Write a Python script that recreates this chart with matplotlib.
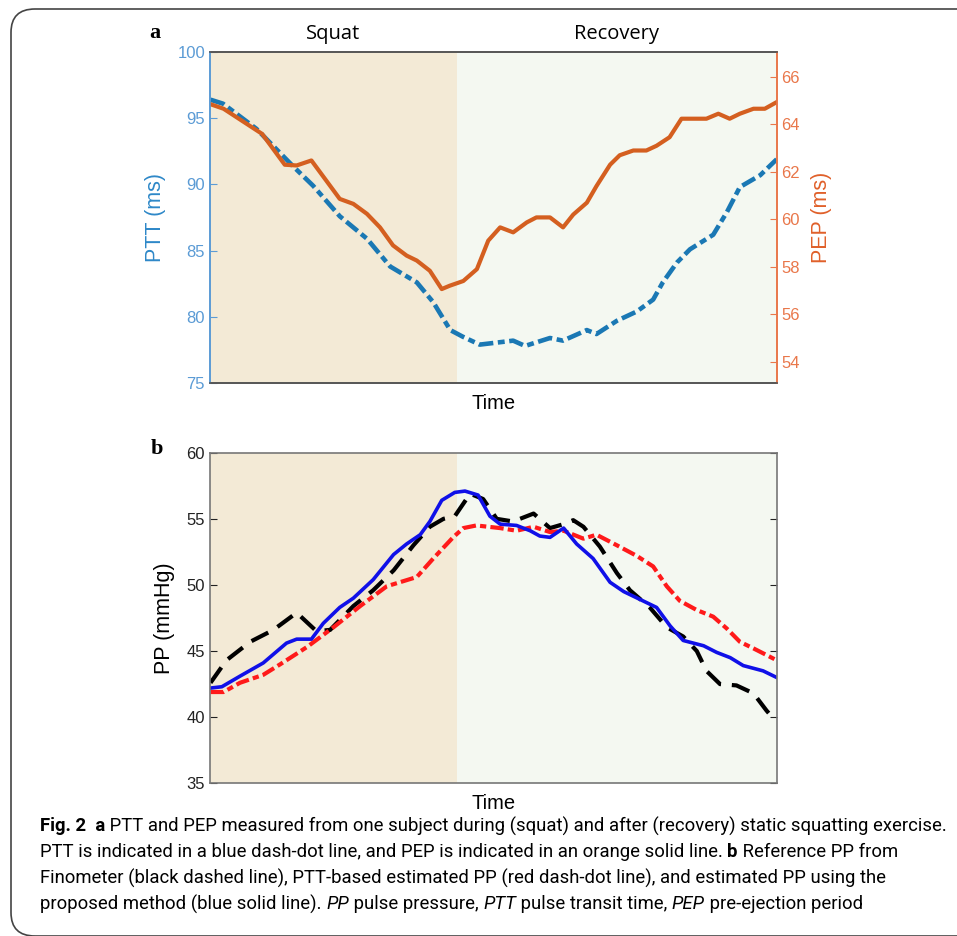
import numpy as np
import matplotlib
matplotlib.use("Agg")
from matplotlib import pyplot as plt
from matplotlib.patches import FancyBboxPatch

plt.rcParams["font.family"] = ["Liberation Sans", "DejaVu Sans"]

# ---- data (time as % of recording) ----
split_t = 43.6

ptt_t = [0.1, 2.3, 8.2, 14.6, 18.2, 22.9, 27.7, 31.8, 36.5, 39.4, 42.4, 44.6, 47.6,
         53.5, 55.6, 60.0, 62.3, 66.5, 68.2, 71.8, 75.3, 78.2, 79.9, 82.4, 84.7,
         88.8, 91.2, 93.5, 97.1, 100]
ptt = [96.4, 96.1, 94.2, 91.4, 89.9, 87.6, 85.9, 83.8, 82.6, 81.1, 79.0, 78.5, 77.9,
       78.2, 77.8, 78.4, 78.2, 79.0, 78.7, 79.7, 80.4, 81.3, 82.6, 84.1, 85.1,
       86.2, 87.9, 89.8, 90.7, 91.9]

pep_t = [0.1, 2.4, 9.2, 13.2, 15.3, 17.9, 22.9, 25.3, 27.7, 30.0, 32.3, 34.7, 36.5,
         38.8, 40.9, 42.3, 44.7, 47.1, 49.1, 51.2, 53.5, 55.9, 57.6, 60.0, 62.3,
         64.1, 66.5, 68.2, 70.6, 72.3, 74.7, 77.0, 78.8, 81.1, 83.2, 85.3, 87.6,
         89.7, 91.7, 93.5, 95.9, 97.9, 100]
pep = [64.85, 64.66, 63.6, 62.3, 62.27, 62.48, 60.86, 60.65, 60.23, 59.66, 58.9, 58.47, 58.26,
       57.83, 57.06, 57.2, 57.4, 57.9, 59.1, 59.66, 59.45, 59.87, 60.08, 60.08, 59.66,
       60.2, 60.7, 61.4, 62.3, 62.7, 62.9, 62.9, 63.1, 63.46, 64.24, 64.24, 64.24,
       64.45, 64.24, 64.45, 64.66, 64.66, 64.94]

prop_t = [0.1, 2.1, 5.3, 9.4, 13.5, 15.3, 17.9, 20.0, 22.9, 25.3, 28.8, 32.4, 34.7,
          37.1, 38.8, 40.9, 43.2, 45.0, 47.3, 49.4, 51.2, 54.1, 56.5, 58.2, 60.0,
          62.4, 64.7, 67.6, 70.6, 73.0, 75.9, 78.8, 81.2, 83.5, 87.1, 89.4, 91.8,
          94.1, 97.6, 100]
pp_prop = [42.2, 42.3, 43.1, 44.1, 45.6, 45.9, 45.9, 47.1, 48.3, 49.0, 50.4, 52.3, 53.1,
           53.8, 54.8, 56.4, 57.0, 57.1, 56.8, 55.2, 54.6, 54.5, 54.1, 53.7, 53.6,
           54.3, 53.1, 52.0, 50.2, 49.5, 48.9, 48.3, 46.9, 45.8, 45.4, 44.9, 44.5,
           43.9, 43.5, 43.0]

pttest_t = [0.1, 2.4, 5.3, 9.4, 12.4, 17.1, 21.8, 26.5, 31.2, 36.5, 39.4, 42.9, 44.7,
            47.0, 51.2, 54.1, 57.1, 60.0, 62.4, 65.9, 68.2, 71.8, 75.3, 78.2, 80.6,
            82.9, 85.9, 88.8, 91.2, 93.5, 95.9, 98.2, 100]
pp_ptt = [41.9, 41.9, 42.6, 43.2, 44.0, 45.3, 46.8, 48.4, 49.9, 50.6, 52.0, 53.6, 54.3,
          54.5, 54.3, 54.1, 54.4, 54.0, 54.1, 53.5, 53.8, 53.0, 52.2, 51.4, 49.9,
          48.8, 48.1, 47.6, 46.7, 45.7, 45.2, 44.7, 44.3]

fino_t = [0.1, 2.9, 7.1, 11.2, 15.3, 18.8, 21.2, 25.3, 28.8, 32.4, 35.9, 38.8, 41.2,
          43.2, 45.9, 48.2, 50.6, 53.5, 57.1, 60.0, 62.4, 64.1, 65.9, 68.8, 71.8,
          74.1, 77.6, 80.6, 83.5, 85.9, 87.6, 90.0, 92.9, 95.9, 98.2, 98.8]
pp_fino = [42.6, 44.3, 45.7, 46.6, 47.9, 46.5, 46.6, 48.4, 49.6, 51.1, 53.0, 54.4, 55.0,
           55.2, 56.9, 56.5, 55.0, 54.8, 55.4, 54.3, 54.6, 54.9, 54.4, 52.9, 50.9,
           49.6, 48.3, 46.8, 46.1, 45.0, 43.5, 42.5, 42.4, 41.8, 40.5, 40.2]

squat_col = "#f3ead6"
recov_col = "#f4f8f1"
ptt_col = "#1a78b4"
pep_col = "#d45f20"
ptt_tick = "#5b9bd5"
pep_tick = "#e9774a"
dashdot = (0, (3.2, 1.0, 1.5, 1.0))

fig = plt.figure(figsize=(9.57, 9.36), dpi=100)

# rounded caption frame
frame = FancyBboxPatch((11 / 957, 0.0), 1.2, (936 - 9) / 936,
                       boxstyle="round,pad=0,rounding_size=0.025",
                       transform=fig.transFigure, fc="none", ec="#444444", lw=1.2,
                       clip_on=False)
fig.patches.append(frame)

# ---- panel a ----
ax1 = fig.add_axes([0.2194, 0.5908, 0.5922, 0.3536])
ax1.axvspan(0, split_t, color=squat_col, lw=0)
ax1.axvspan(split_t, 100, color=recov_col, lw=0)
ax1.plot(ptt_t, ptt, color=ptt_col, lw=3.3, linestyle=dashdot)
ax1.set_xlim(0, 100)
ax1.set_ylim(75, 100)
ax1.set_yticks([75, 80, 85, 90, 95, 100])
ax1.set_xticks([])
ax1.tick_params(axis="y", direction="in", colors=ptt_tick, labelsize=12, length=5)
ax1.set_ylabel("PTT (ms)", color="#2e88c8", fontsize=15.5, labelpad=8)
ax1.set_xlabel("Time", fontsize=14.5, labelpad=8)

ax2 = ax1.twinx()
ax2.plot(pep_t, pep, color=pep_col, lw=3.0)
ax2.set_ylim(53.1, 67.05)
ax2.set_yticks([54, 56, 58, 60, 62, 64, 66])
ax2.tick_params(axis="y", direction="in", colors=pep_tick, labelsize=12, length=5)
ax2.set_ylabel("PEP (ms)", color="#e0602a", fontsize=15.5, labelpad=8)

for a in (ax1, ax2):
    a.spines["top"].set_color("#555555")
    a.spines["bottom"].set_color("#555555")
    a.spines["left"].set_color(ptt_tick)
    a.spines["right"].set_color(pep_tick)
    for s in a.spines.values():
        s.set_linewidth(1.2)

ax1.text(split_t / 2, 1.055, "Squat", transform=ax1.get_xaxis_transform(),
         ha="center", va="center", fontsize=14.5, family="Open Sans")
ax1.text((split_t + 100) / 2, 1.055, "Recovery", transform=ax1.get_xaxis_transform(),
         ha="center", va="center", fontsize=14.5, family="Open Sans")

# ---- panel b ----
ax3 = fig.add_axes([0.2194, 0.1632, 0.5922, 0.3531])
ax3.axvspan(0, split_t, color=squat_col, lw=0)
ax3.axvspan(split_t, 100, color=recov_col, lw=0)
ax3.plot(fino_t, pp_fino, color="black", lw=3.0, linestyle=(0, (4.5, 2.6)))
ax3.plot(pttest_t, pp_ptt, color="#ff1a1a", lw=3.0, linestyle=dashdot)
ax3.plot(prop_t, pp_prop, color="#1010e8", lw=2.6)
ax3.set_xlim(0, 100)
ax3.set_ylim(35, 60)
ax3.set_yticks([35, 40, 45, 50, 55, 60])
ax3.set_xticks([])
ax3.tick_params(axis="y", direction="in", right=True, labelsize=12, length=5,
                colors="#222222")
ax3.set_ylabel("PP (mmHg)", fontsize=15.5, labelpad=8)
ax3.set_xlabel("Time", fontsize=14.5, labelpad=8)
for s in ax3.spines.values():
    s.set_color("#777777")
    s.set_linewidth(1.2)

fig.text(155 / 957, 1 - 33 / 936, "a", fontsize=16, fontweight="bold",
         family="Liberation Serif", ha="center", va="center")
fig.text(157 / 957, 1 - 449 / 936, "b", fontsize=16, fontweight="bold",
         family="Liberation Serif", ha="center", va="center")

# ---- caption with mixed styles ----
cap_font = "Roboto"
caption = [
    [("Fig. 2  a", "bold", "normal"),
     (" PTT and PEP measured from one subject during (squat) and after (recovery) static squatting exercise.", "normal", "normal")],
    [("PTT is indicated in a blue dash-dot line, and PEP is indicated in an orange solid line. ", "normal", "normal"),
     ("b", "bold", "normal"), (" Reference PP from", "normal", "normal")],
    [("Finometer (black dashed line), PTT-based estimated PP (red dash-dot line), and estimated PP using the", "normal", "normal")],
    [("proposed method (blue solid line). ", "normal", "normal"), ("PP", "normal", "italic"),
     (" pulse pressure, ", "normal", "normal"), ("PTT", "normal", "italic"),
     (" pulse transit time, ", "normal", "normal"), ("PEP", "normal", "italic"),
     (" pre-ejection period", "normal", "normal")],
]
line_y = [826, 852, 878, 904]

renderer = fig.canvas.get_renderer()


def draw_line(runs, yy, size):
    x = 40
    items = []
    for txt, wt, st in runs:
        t = fig.text(x / 957, 1 - yy / 936, txt, fontsize=size, fontweight=wt,
                     fontstyle=st, family=cap_font, ha="left", va="center")
        x += t.get_window_extent(renderer=renderer).width
        items.append(t)
    return items, x - 40


# fit the first line to the width it has in the page
probe, w = draw_line(caption[0], line_y[0], 14)
for t in probe:
    t.remove()
cap_size = 14 * 912 / w

for runs, yy in zip(caption, line_y):
    draw_line(runs, yy, cap_size)

fig.savefig("out.png", dpi=100)
